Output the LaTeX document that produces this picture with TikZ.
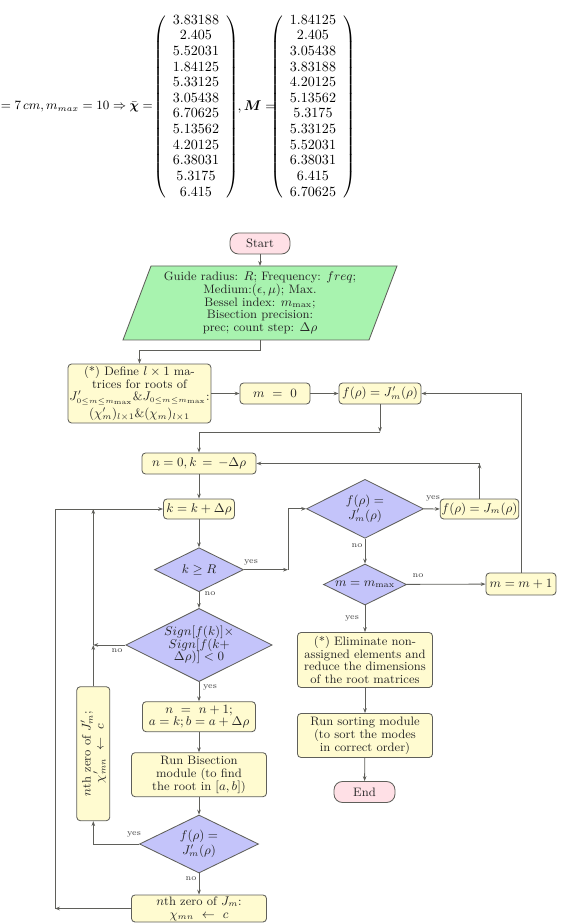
\documentclass[tikz,border=0pt]{standalone}
\usepackage{amssymb,amsmath}
\usepackage{tikz}
\usetikzlibrary{arrows.meta}
\usetikzlibrary{shapes.geometric}
\usetikzlibrary{positioning}

\definecolor{linegray}{RGB}{95,95,90}
\definecolor{boxfill}{RGB}{255,251,208}
\definecolor{termfill}{RGB}{255,224,230}
\definecolor{iofill}{RGB}{168,243,175}
\definecolor{condfill}{RGB}{196,196,250}
\newcommand{\unitpx}{0.025cm}
\newcommand{\flowfont}{\fontsize{8.7}{9.1}\selectfont}
\newcommand{\eqfont}{\fontsize{10.3}{11.7}\selectfont}
\renewcommand{\arraystretch}{0.95}

\begin{document}
\begin{tikzpicture}[x=0.025cm, y=-0.025cm,
    box/.style={draw=linegray, fill=boxfill, rounded corners=2.5pt, line width=0.6pt,
        align=center, inner sep=1pt, font=\flowfont, text=black!85},
    term/.style={box, fill=termfill, rounded corners=6pt},
    cond/.style={diamond, aspect=2, draw=linegray, fill=condfill, line width=0.6pt,
        align=center, inner sep=0pt, font=\flowfont, text=black!85},
    lbl/.style={font=\fontsize{6}{7}\selectfont, text=black!75, inner sep=1pt},
    arr/.style={draw=linegray, line width=0.6pt, -{Stealth[length=3.5pt,width=2.6pt]}}]
    \useasboundingbox (0,0) rectangle (568,924);

    % result vectors
    \node[anchor=east, font=\fontsize{9}{11}\selectfont, inner sep=0pt] (eq) at (153,107)
        {$=7\,cm, m_{max}=10 \Rightarrow \bar{\boldsymbol{\chi}} =$};
    \node[font=\eqfont, inner sep=0pt] (chi) at (196,107) {$\left(\begin{array}{c}
        3.83188\\ 2.405\\ 5.52031\\ 1.84125\\ 5.33125\\ 3.05438\\
        6.70625\\ 5.13562\\ 4.20125\\ 6.38031\\ 5.3175\\ 6.415\end{array}\right)$};
    \node[font=\eqfont, inner sep=0pt] (mlab) at (257,107) {$,\boldsymbol{M} =$};
    \node[font=\eqfont, inner sep=0pt] (mvec) at (313,107) {$\left(\begin{array}{c}
        1.84125\\ 2.405\\ 3.05438\\ 3.83188\\ 4.20125\\ 5.13562\\
        5.3175\\ 5.33125\\ 5.52031\\ 6.38031\\ 6.415\\ 6.70625\end{array}\right)$};

    % flowchart
    \node[term, minimum width=60*\unitpx, minimum height=21*\unitpx] (start) at (260,243.5) {Start};
    \draw[draw=linegray, fill=iofill, line width=0.6pt] (151,266) -- (397,266) -- (369,340) -- (123,340) -- cycle;
    \node[font=\flowfont, align=center, text=black!85] (inp) at (260,303)
        {Guide radius: $R$; Frequency: $freq$;\\ Medium:$(\epsilon,\mu)$; Max.\\
         Bessel index: $m_{\max}$;\\ Bisection precision:\\ prec; count step: $\Delta\rho$};
    \coordinate (inptop) at (260,266);
    \coordinate (inpbot) at (260,340);

    \node[box, minimum width=135*\unitpx, minimum height=59*\unitpx] (def) at (139.5,393.5)
        {(*) Define $l\times 1$ ma-\\ trices for roots of\\
         $J'_{\scriptscriptstyle 0\le m\le m_{\max}}$\&$J_{\scriptscriptstyle 0\le m\le m_{\max}}$:\\[1pt]
         $(\chi'_m)_{l\times1}$\&$(\chi_m)_{l\times1}$};
    \node[box, minimum width=70*\unitpx, minimum height=21*\unitpx] (m0) at (275,393.5) {$m\ =\ 0$};
    \node[box, minimum width=82*\unitpx, minimum height=21*\unitpx] (fd) at (380,393.5) {$f(\rho) = J'_m(\rho)$};

    \node[box, minimum width=114*\unitpx, minimum height=21*\unitpx] (n0) at (199,463.5) {$n = 0, k\, =\, -\Delta\rho$};
    \node[box, minimum width=71*\unitpx, minimum height=20*\unitpx] (kk) at (199,509) {$k = k + \Delta\rho$};
    \node[cond, minimum width=89*\unitpx, minimum height=44*\unitpx] (kR) at (199,569.7) {$k \geq R$};
    \node[cond, minimum width=144*\unitpx, minimum height=71*\unitpx] (sg) at (199,645)
        {$Sign[f(k)]\times$\\ $Sign[f(k+$\\ $\Delta\rho)]<0$};
    \node[box, minimum width=113*\unitpx, minimum height=30*\unitpx] (nn) at (199,716.7)
        {$n\ =\ n+1;$\\ $a=k; b=a+\Delta\rho$};
    \node[box, minimum width=135*\unitpx, minimum height=44*\unitpx] (bis) at (199,774.7)
        {Run Bisection\\ module (to find\\ the root in $[a,b]$)};
    \node[cond, minimum width=119*\unitpx, minimum height=58*\unitpx] (dJ2) at (199,844)
        {$f(\rho) =$\\ $J'_m(\rho)$};
    \node[box, minimum width=135*\unitpx, minimum height=27*\unitpx] (zb) at (199,908.5)
        {$n$th zero of $J_m$:\\ $\chi_{mn}\ \leftarrow\ c$};
    \node[box, rotate=90, minimum width=134*\unitpx, minimum height=33*\unitpx] (zp) at (93.3,753.7)
        {$n$th zero of $J'_m$;\\ $\chi'_{mn}\ \leftarrow\ c$};

    \node[cond, minimum width=117*\unitpx, minimum height=59*\unitpx] (dJp) at (365,508.8)
        {$f(\rho) =$\\ $J'_m(\rho)$};
    \node[box, minimum width=71*\unitpx, minimum height=20*\unitpx] (fJ) at (479.5,509) {$f(\rho) = J_m(\rho)$};
    \node[cond, minimum width=83*\unitpx, minimum height=41*\unitpx] (mm) at (365,584.5) {$m = m_{\max}$};
    \node[box, minimum width=70*\unitpx, minimum height=22*\unitpx] (mp) at (521,584) {$m = m + 1$};
    \node[box, minimum width=135*\unitpx, minimum height=55*\unitpx] (elim) at (365,660)
        {(*) Eliminate non-\\ assigned elements and\\ reduce the dimensions\\ of the root matrices};
    \node[box, minimum width=135*\unitpx, minimum height=44*\unitpx] (sort) at (365,735.5)
        {Run sorting module\\ (to sort the modes\\ in correct order)};
    \node[term, minimum width=61*\unitpx, minimum height=21*\unitpx] (fin) at (364.5,792) {End};

    % corner points
    \coordinate (c1) at (260,350);
    \coordinate (c2) at (380,432);
    \coordinate (c3) at (288,569.7);
    \coordinate (c4) at (93.3,645);
    \coordinate (c5) at (93.3,509);
    \coordinate (c6) at (55,908.5);
    \coordinate (c7) at (479.5,463.5);

    \draw[arr] (start) -- (inptop);
    \draw[arr] (inpbot) -- (c1) -| (def);
    \draw[arr] (def) -- (m0);
    \draw[arr] (m0) -- (fd);
    \draw[arr] (fd) -- (c2);
    \draw[arr] (c2) -| (n0);
    \draw[arr] (n0) -- (kk);
    \draw[arr] (kk) -- (kR);
    \draw[arr] (kR) -- (c3);
    \draw[arr] (c3) |- (dJp);
    \draw[arr] (kR) -- (sg);
    \draw[arr] (sg) -- (nn);
    \draw[arr] (nn) -- (bis);
    \draw[arr] (bis) -- (dJ2);
    \draw[arr] (sg) -- (c4);
    \draw[arr] (zp.east) -- (c4);
    \draw[arr] (c4) -- (c5);
    \draw[arr] (dJ2) -| (zp);
    \draw[arr] (dJ2) -- (zb);
    \draw[arr] (zb) -- (c6);
    \draw[arr] (c6) |- (kk);
    \draw[arr] (dJp) -- (fJ);
    \draw[arr] (fJ) -- (c7);
    \draw[arr] (c7) -- (n0);
    \draw[arr] (dJp) -- (mm);
    \draw[arr] (mm) -- (mp);
    \draw[arr] (mp) |- (fd);
    \draw[arr] (mm) -- (elim);
    \draw[arr] (elim) -- (sort);
    \draw[arr] (sort) -- (fin);

    % branch labels
    \node[lbl] (l1) at (251,562) {yes};
    \node[lbl] (l2) at (210,594) {no};
    \node[lbl] (l3) at (117,651) {no};
    \node[lbl] (l4) at (210,687) {yes};
    \node[lbl] (l5) at (134,834) {yes};
    \node[lbl] (l6) at (191,879) {no};
    \node[lbl] (l7) at (433,498) {yes};
    \node[lbl] (l8) at (357,546) {no};
    \node[lbl] (l9) at (418,576) {no};
    \node[lbl] (l10) at (352,618) {yes};
\end{tikzpicture}
\end{document}
